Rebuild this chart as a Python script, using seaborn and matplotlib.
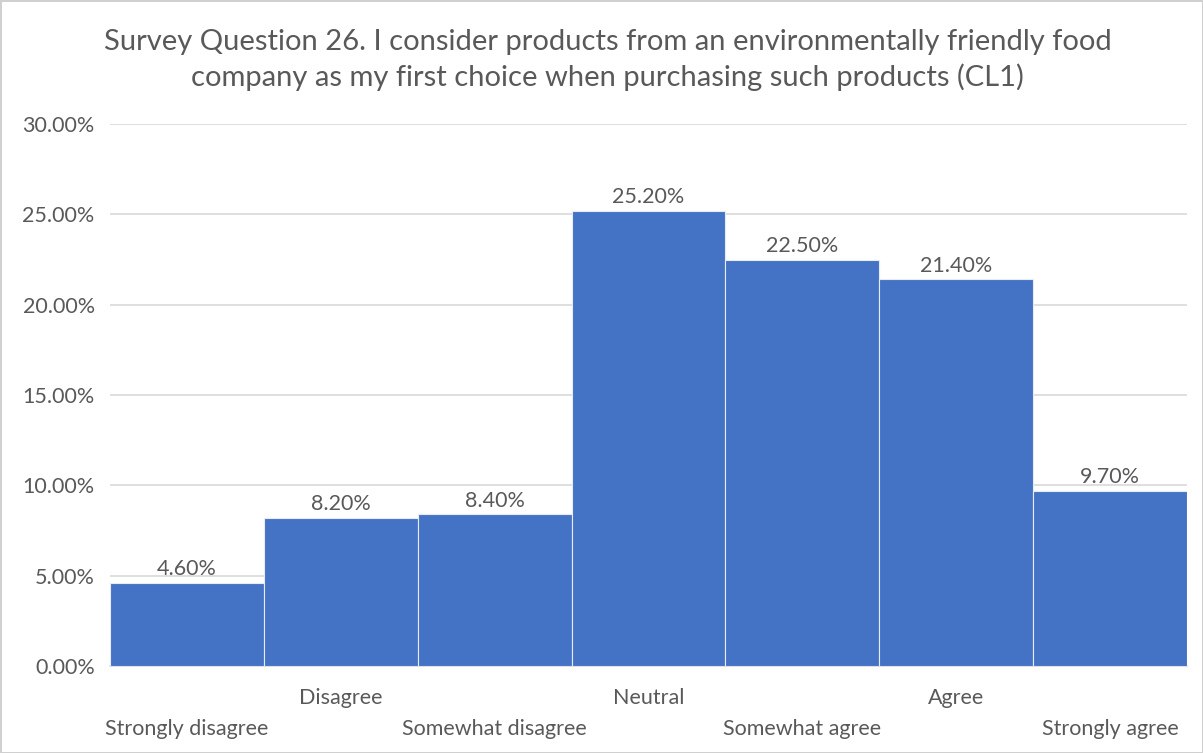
import matplotlib
matplotlib.use("Agg")
import matplotlib.pyplot as plt
from matplotlib.ticker import FuncFormatter
import seaborn as sns
import pandas as pd

categories = ["Strongly disagree", "Disagree", "Somewhat disagree", "Neutral",
              "Somewhat agree", "Agree", "Strongly agree"]
shares = [4.6, 8.2, 8.4, 25.2, 22.5, 21.4, 9.7]
y_ticks = [0, 5, 10, 15, 20, 25, 30]
title = ("Survey Question 26. I consider products from an environmentally friendly food\n"
         "company as my first choice when purchasing such products (CL1)")

sns.set_style("white")
plt.rcParams["font.family"] = ["Lato", "DejaVu Sans"]

TEXT = "#595959"
BLUE = "#4472C4"
GRID = "#D9D9D9"
FS = 15.5

df = pd.DataFrame({"category": categories, "share": shares})

fig = plt.figure(figsize=(12.03, 7.53), dpi=100)
fig.patch.set_facecolor("white")
fig.patch.set_edgecolor("#D0D0D0")
fig.patch.set_linewidth(2)
ax = fig.add_axes([0.0914, 0.1155, 0.8953, 0.7198])

sns.barplot(data=df, x="category", y="share", color=BLUE, width=1.0,
            edgecolor="#E6ECF7", linewidth=0.8, saturation=1, ax=ax, zorder=3)

ax.set_ylim(0, 30)
ax.set_xlim(-0.5, len(categories) - 0.5)
ax.set_yticks(y_ticks)
ax.yaxis.set_major_formatter(FuncFormatter(lambda v, p: f"{v:.2f}%"))
ax.grid(axis="y", color=GRID, linewidth=1.2, zorder=0)
ax.set_axisbelow(True)
for s in ["top", "right", "left"]:
    ax.spines[s].set_visible(False)
ax.spines["bottom"].set_color(GRID)
ax.spines["bottom"].set_linewidth(1.2)
ax.tick_params(axis="y", length=0, labelsize=FS, labelcolor=TEXT, pad=11)
ax.set_xlabel("")
ax.set_ylabel("")

# staggered category labels
ax.set_xticks(range(len(categories)))
ax.set_xticklabels([])
ax.tick_params(axis="x", length=0)
for i, cat in enumerate(categories):
    y_off = -23 if i % 2 == 1 else -45
    ax.annotate(cat, xy=(i, 0), xytext=(0, y_off), textcoords="offset points",
                ha="center", va="center", fontsize=FS, color=TEXT,
                annotation_clip=False)

# value labels above bars
for i, v in enumerate(shares):
    ax.annotate(f"{v:.2f}%", xy=(i, v), xytext=(0, 2.5), textcoords="offset points",
                ha="center", va="bottom", fontsize=FS, color=TEXT)

fig.suptitle(title, x=0.505, y=0.962, fontsize=21, color=TEXT, linespacing=1.4)

fig.savefig("out.png", dpi=100, facecolor=fig.get_facecolor(),
            edgecolor=fig.get_edgecolor())
